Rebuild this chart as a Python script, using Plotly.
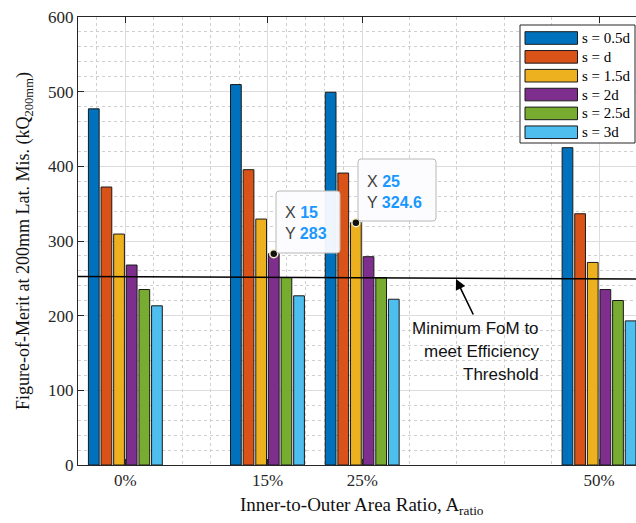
import plotly.graph_objects as go

# ---------------- data ----------------
categories = [0, 15, 25, 50]
tick_labels = ["0%", "15%", "25%", "50%"]
series_names = ["s = 0.5d", "s = d", "s = 1.5d", "s = 2d", "s = 2.5d", "s = 3d"]
s_05d = [477, 509.5, 499.2, 425]
s_1d = [372.3, 395.5, 391, 336.5]
s_15d = [309.3, 329.4, 324.6, 271.3]
s_2d = [267.8, 283, 279, 235]
s_25d = [235, 251, 251, 220.3]
s_3d = [213.2, 226.6, 222, 193]
series_values = [s_05d, s_1d, s_15d, s_2d, s_25d, s_3d]
threshold_x = [-5, 55]
threshold_y = [252.5, 249]
# datatips: (category, series index)
datatips = [(15, 3), (25, 2)]

colors = ["#0072BD", "#D95319", "#EDB120", "#7E2F8E", "#77AC30", "#4DBEEE"]
SERIF = "Liberation Serif, Times New Roman, serif"
SANS = "Liberation Sans, Arial, sans-serif"

W, H = 636, 523
L, R, T, B = 78, 0, 17, 58
PW, PH = W - L - R, H - T - B
X0, X1 = -5, 53.9


def px2x(px):
    return X0 + (px - L) / PW * (X1 - X0)


def py2v(py):
    return (H - B - py) / PH * 600


def px2p(px):
    return (px - L) / PW


def py2p(py):
    return (H - B - py) / PH


fig = go.Figure()
for name, vals, c in zip(series_names, series_values, colors):
    fig.add_trace(go.Bar(x=categories, y=vals, name=name, marker_color=c,
                         marker_line_color="#1a1a1a", marker_line_width=1,
                         showlegend=False, hoverinfo="skip"))

fig.add_trace(go.Scatter(x=threshold_x, y=threshold_y, mode="lines",
                         line=dict(color="black", width=1.6), showlegend=False))

# datatip markers
n = len(series_names)
group_w = 8.0
tip_x, tip_y = [], []
for cat, idx in datatips:
    ci = categories.index(cat)
    tip_x.append(cat + (idx - (n - 1) / 2) * group_w / n)
    tip_y.append(series_values[idx][ci])
fig.add_trace(go.Scatter(x=tip_x, y=tip_y, mode="markers",
                         marker=dict(size=8, color="#111", line=dict(color="#f3efc4", width=1.5)),
                         showlegend=False))

shapes = []
annotations = []


def rounded_box(x0p, y0p, x1p, y1p, r=3):
    path = (f"M {px2x(x0p + r)},{py2v(y0p)} L {px2x(x1p - r)},{py2v(y0p)} "
            f"Q {px2x(x1p)},{py2v(y0p)} {px2x(x1p)},{py2v(y0p + r)} "
            f"L {px2x(x1p)},{py2v(y1p - r)} Q {px2x(x1p)},{py2v(y1p)} {px2x(x1p - r)},{py2v(y1p)} "
            f"L {px2x(x0p + r)},{py2v(y1p)} Q {px2x(x0p)},{py2v(y1p)} {px2x(x0p)},{py2v(y1p - r)} "
            f"L {px2x(x0p)},{py2v(y0p + r)} Q {px2x(x0p)},{py2v(y0p)} {px2x(x0p + r)},{py2v(y0p)} Z")
    return dict(type="path", path=path, xref="x", yref="y",
                fillcolor="rgba(252,252,255,0.95)", line=dict(color="#b8b8b8", width=1), layer="above")


# datatip boxes (pixel geometry)
tip_boxes = [(276, 191, 340, 253, 283, 212, 233), (358, 159, 436, 221, 365, 181, 202)]
for (cat, idx), (bx0, by0, bx1, by1, tx, ty1, ty2) in zip(datatips, tip_boxes):
    ci = categories.index(cat)
    val = series_values[idx][ci]
    shapes.append(rounded_box(bx0, by0, bx1, by1))
    for lab, txt, ty in (("X", f"{cat:g}", ty1), ("Y", f"{val:g}", ty2)):
        annotations.append(dict(x=px2x(tx), y=py2v(ty), xref="x", yref="y", xanchor="left",
                                yanchor="middle", showarrow=False,
                                text=f"<span style='color:#404040'>{lab}</span> "
                                     f"<b><span style='color:#1a98ff'>{txt}</span></b>",
                                font=dict(family=SANS, size=16)))

# threshold annotation
annotations.append(dict(x=px2x(456), y=py2v(279), xref="x", yref="y", text="",
                        showarrow=True, ax=18, ay=37, arrowhead=2, arrowsize=1.3,
                        arrowwidth=1.6, arrowcolor="black"))
for txt, ty in (("Minimum FoM to", 328), ("meet Efficiency", 351), ("Threshold", 374)):
    annotations.append(dict(x=px2p(541), y=py2p(ty), xref="paper", yref="paper", text=txt,
                            xanchor="right", yanchor="middle", showarrow=False,
                            font=dict(family=SANS, size=17, color="#111")))

# custom legend
shapes.append(dict(type="rect", xref="paper", yref="paper", x0=px2p(520), x1=px2p(635),
                   y0=py2p(25), y1=py2p(143), fillcolor="white", line=dict(color="#262626", width=1),
                   layer="above"))
for i, (name, c) in enumerate(zip(series_names, colors)):
    yc = 38 + i * 18.85
    shapes.append(dict(type="rect", xref="paper", yref="paper", x0=px2p(525), x1=px2p(577.5),
                       y0=py2p(yc - 6.3), y1=py2p(yc + 6.3), fillcolor=c,
                       line=dict(color="#1a1a1a", width=1), layer="above"))
    annotations.append(dict(x=px2p(580), y=py2p(yc), xref="paper", yref="paper", text=name,
                            xanchor="left", yanchor="middle", showarrow=False,
                            font=dict(family=SERIF, size=15, color="black")))

# axis titles
annotations.append(dict(x=25, y=py2p(506), xref="x", yref="paper", showarrow=False,
                        text="Inner-to-Outer Area Ratio, A<sub>ratio</sub>", xanchor="center",
                        yanchor="middle", font=dict(family=SERIF, size=19, color="#111")))
annotations.append(dict(x=px2p(24), y=0.5, xref="paper", yref="paper", showarrow=False,
                        textangle=-90, xanchor="center", yanchor="middle",
                        text="Figure-of-Merit at 200mm Lat. Mis. (kQ<sub>200mm</sub>)",
                        font=dict(family=SERIF, size=18, color="#111")))

fig.update_layout(
    width=W, height=H, margin=dict(l=L, r=R, t=T, b=B),
    plot_bgcolor="white", paper_bgcolor="white",
    barmode="group", bargap=0.2, bargroupgap=0.15,
    shapes=shapes, annotations=annotations, showlegend=False,
    xaxis=dict(range=[X0, X1], tickvals=categories, ticktext=tick_labels,
               ticks="inside", ticklen=6, tickcolor="#262626", showline=True,
               linecolor="#262626", linewidth=1, mirror="ticks", zeroline=False,
               showgrid=True, gridcolor="#dcdcdc", gridwidth=1,
               tickfont=dict(family=SERIF, size=17, color="#262626"),
               minor=dict(tickvals=[-3, 3, 6, 9, 12, 17, 19, 21, 23, 30, 35, 40, 45],
                          showgrid=True, gridcolor="#cfcfcf", griddash="dot", gridwidth=1,
                          ticks="")),
    yaxis=dict(range=[0, 600], tickvals=list(range(0, 601, 100)), ticks="inside", ticklen=6,
               tickcolor="#262626", showline=True, linecolor="#262626", linewidth=1,
               mirror=False, zeroline=False, showgrid=True, gridcolor="#dcdcdc",
               tickfont=dict(family=SERIF, size=17, color="#262626"),
               minor=dict(dtick=20, tick0=0, showgrid=True, gridcolor="#cfcfcf",
                          griddash="dot", ticks="")),
)

fig.write_html("out.html", config={"displayModeBar": False},
               post_script="document.body.style.margin='0';document.body.style.overflow='hidden';")
